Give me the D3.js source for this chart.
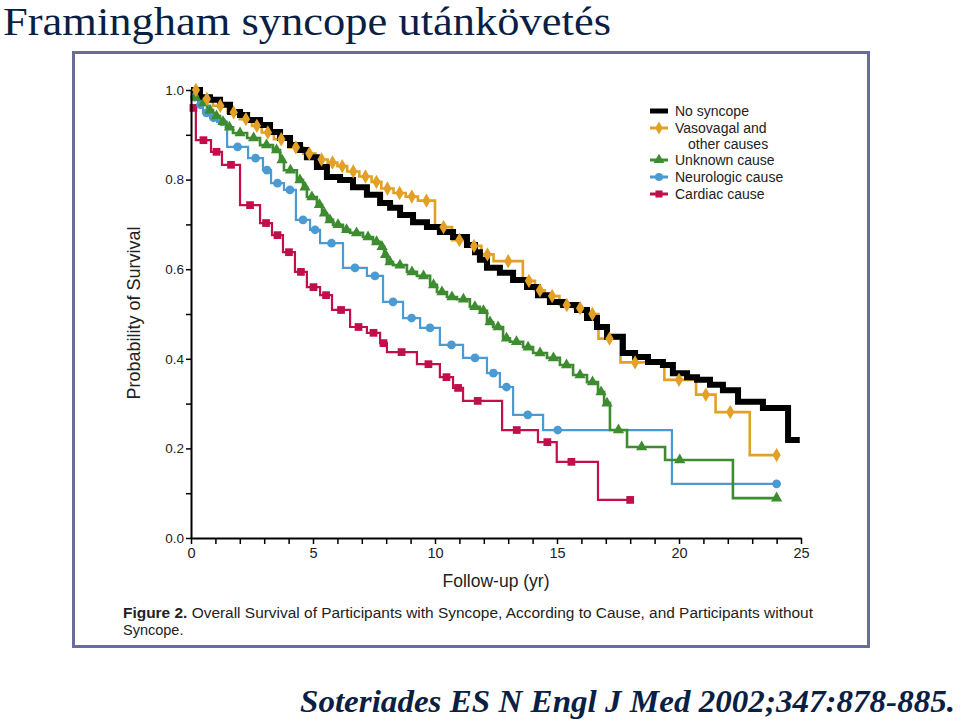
<!DOCTYPE html>
<html>
<head>
<meta charset="utf-8">
<script src="https://cdn.jsdelivr.net/npm/d3@7"></script>
<style>
  html, body { margin: 0; padding: 0; background: #fff; }
  svg { display: block; }
</style>
</head>
<body>
<svg id="chart" width="960" height="721"></svg>
<script>
// ---------------- DATA ----------------
const titleText = "Framingham syncope utánkövetés";
const citationText = "Soteriades ES N Engl J Med 2002;347:878-885.";
const xTickLabels = [0, 5, 10, 15, 20, 25];
const yTickLabels = [0.0, 0.2, 0.4, 0.6, 0.8, 1.0];
const xLabel = "Follow-up (yr)";
const yLabel = "Probability of Survival";
const captionBold = "Figure 2.";
const captionLine1 = " Overall Survival of Participants with Syncope, According to Cause, and Participants without";
const captionLine2 = "Syncope.";

// No syncope (step times in years, survival after the step)
const noSyncopeT = [0, 0.37, 0.78, 1.19, 1.60, 2.01, 2.30, 2.83, 3.24, 3.65, 4.06, 4.47, 4.75, 5.16, 5.57, 6.11, 6.64, 7.21, 7.75, 8.16, 8.57, 9.10, 9.67, 10.20, 10.74, 11.31, 11.64, 11.84, 12.13, 12.66, 13.20, 13.77, 14.22, 14.71, 15.25, 15.82, 16.23, 16.64, 17.05, 17.70, 18.20, 18.73, 19.34, 19.75, 20.33, 20.74, 21.27, 21.80, 22.42, 23.44, 24.47];
const noSyncopeS = [1.0, 0.984, 0.978, 0.967, 0.951, 0.944, 0.933, 0.922, 0.906, 0.893, 0.877, 0.866, 0.850, 0.828, 0.806, 0.799, 0.783, 0.766, 0.748, 0.737, 0.721, 0.705, 0.694, 0.683, 0.672, 0.654, 0.638, 0.621, 0.603, 0.592, 0.576, 0.560, 0.542, 0.527, 0.520, 0.509, 0.491, 0.471, 0.449, 0.413, 0.404, 0.393, 0.386, 0.368, 0.359, 0.353, 0.342, 0.330, 0.304, 0.290, 0.219];
const noSyncopeEnd = 24.95;

// Vasovagal and other causes
const vasovagalT = [0, 0.4, 0.9, 1.5, 2.0, 2.5, 2.9, 3.4, 4.0, 4.6, 5.1, 5.6, 6.0, 6.4, 6.9, 7.4, 7.8, 8.3, 8.8, 9.3, 10.0, 10.7, 11.3, 11.9, 12.4, 13.6, 14.1, 14.5, 15.1, 15.7, 16.2, 16.7, 17.6, 19.4, 20.7, 21.5, 22.9];
const vasovagalS = [1.0, 0.98, 0.965, 0.95, 0.935, 0.92, 0.905, 0.89, 0.872, 0.858, 0.845, 0.838, 0.83, 0.818, 0.807, 0.795, 0.78, 0.77, 0.762, 0.753, 0.694, 0.665, 0.652, 0.633, 0.618, 0.574, 0.553, 0.54, 0.52, 0.513, 0.50, 0.445, 0.392, 0.353, 0.32, 0.281, 0.185];
const vasovagalEnd = 24.0;

// Unknown cause
const unknownT = [0, 0.37, 0.66, 0.90, 1.19, 1.43, 1.72, 2.30, 2.83, 3.36, 3.65, 3.81, 4.34, 4.59, 4.75, 5.16, 5.37, 5.57, 5.82, 6.23, 6.52, 7.05, 7.46, 7.75, 7.91, 8.03, 8.28, 8.85, 9.26, 9.80, 10.08, 10.49, 10.90, 11.43, 11.84, 12.13, 12.38, 12.79, 13.07, 13.61, 14.02, 14.59, 15.12, 15.66, 16.23, 16.68, 16.93, 17.17, 17.87, 19.43, 22.21];
const unknownS = [0.984, 0.971, 0.955, 0.942, 0.929, 0.917, 0.904, 0.893, 0.877, 0.866, 0.844, 0.821, 0.799, 0.783, 0.761, 0.744, 0.725, 0.710, 0.699, 0.688, 0.681, 0.672, 0.661, 0.650, 0.632, 0.616, 0.609, 0.594, 0.585, 0.565, 0.549, 0.538, 0.533, 0.516, 0.507, 0.482, 0.471, 0.446, 0.438, 0.426, 0.413, 0.402, 0.386, 0.364, 0.348, 0.326, 0.301, 0.241, 0.203, 0.174, 0.089];
const unknownEnd = 24.0;

// Neurologic cause
const neuroT = [0, 0.29, 0.49, 0.78, 1.07, 1.48, 2.34, 2.95, 3.28, 3.81, 4.30, 4.88, 5.29, 6.23, 7.21, 7.87, 8.69, 9.39, 10.20, 11.15, 12.13, 12.66, 13.20, 14.43, 19.71];
const neuroS = [0.984, 0.967, 0.949, 0.938, 0.929, 0.873, 0.848, 0.821, 0.792, 0.777, 0.710, 0.688, 0.658, 0.603, 0.585, 0.527, 0.491, 0.469, 0.431, 0.402, 0.368, 0.337, 0.275, 0.241, 0.121];
const neuroEnd = 24.0;

// Cardiac cause
const cardiacT = [0, 0.20, 0.82, 1.27, 2.01, 2.83, 3.32, 3.77, 4.26, 4.75, 5.29, 5.78, 6.52, 7.21, 7.75, 8.03, 9.26, 10.20, 10.74, 11.15, 12.75, 14.22, 14.99, 16.68];
const cardiacS = [0.960, 0.888, 0.862, 0.833, 0.743, 0.703, 0.676, 0.638, 0.594, 0.560, 0.542, 0.509, 0.471, 0.458, 0.435, 0.415, 0.388, 0.359, 0.335, 0.306, 0.241, 0.214, 0.170, 0.085];
const cardiacEnd = 18.0;

const seriesNames = ["No syncope", "Vasovagal and\nother causes", "Unknown cause", "Neurologic cause", "Cardiac cause"];
const seriesColors = ["#000000", "#e2a126", "#3e8c30", "#4b9ad2", "#c20f4c"];

// ---------------- BUILD ----------------
const series = [
  {name: seriesNames[0], color: seriesColors[0], t: noSyncopeT, s: noSyncopeS, end: noSyncopeEnd, width: 6, symbol: null},
  {name: seriesNames[1], color: seriesColors[1], t: vasovagalT, s: vasovagalS, end: vasovagalEnd, width: 2.6, symbol: d3.symbolDiamond},
  {name: seriesNames[2], color: seriesColors[2], t: unknownT, s: unknownS, end: unknownEnd, width: 2.6, symbol: d3.symbolTriangle},
  {name: seriesNames[3], color: seriesColors[3], t: neuroT, s: neuroS, end: neuroEnd, width: 2.2, symbol: d3.symbolCircle},
  {name: seriesNames[4], color: seriesColors[4], t: cardiacT, s: cardiacS, end: cardiacEnd, width: 2.2, symbol: d3.symbolSquare}
];

const svg = d3.select("#chart");

// Title
svg.append("text")
  .attr("x", 3).attr("y", 35)
  .attr("font-family", "'Liberation Serif', 'Times New Roman', serif")
  .attr("font-size", 39)
  .attr("fill", "#0b1f45")
  .attr("textLength", 608)
  .attr("lengthAdjust", "spacingAndGlyphs")
  .text(titleText);

// Frame
svg.append("rect")
  .attr("x", 73.5).attr("y", 52.5)
  .attr("width", 795).attr("height", 594)
  .attr("fill", "#fff")
  .attr("stroke", "#6b6c9e").attr("stroke-width", 3);

// Scales
const x = d3.scaleLinear().domain([0, 25]).range([191, 801]);
const y = d3.scaleLinear().domain([0, 1]).range([538, 90]);

const sansFont = "'Liberation Sans Narrow', 'Arial Narrow', 'Liberation Sans', Arial, sans-serif";

// Series lines
const line = d3.line().x(d => x(d[0])).y(d => y(d[1])).curve(d3.curveStepAfter);
const drawOrder = [4, 3, 2, 1, 0];
const gLines = svg.append("g");
drawOrder.forEach(i => {
  const sr = series[i];
  const pts = sr.t.map((t, k) => [t, sr.s[k]]);
  pts.push([sr.end, sr.s[sr.s.length - 1]]);
  gLines.append("path")
    .attr("d", line(pts))
    .attr("fill", "none")
    .attr("stroke", sr.color)
    .attr("stroke-width", sr.width)
    .attr("stroke-linejoin", "miter")
    .attr("stroke-linecap", "butt");
});

// Markers (one per step plateau; the last plateau is marked at its end)
const gMarks = svg.append("g");
[4, 3, 2, 1].forEach(i => {
  const sr = series[i];
  const marks = [];
  sr.t.forEach((t, k) => {
    if (k === sr.t.length - 1) return;
    const next = sr.t[k + 1];
    const off = Math.min((next - t) / 2, 0.6);
    marks.push([t + off, sr.s[k]]);
  });
  marks.push([sr.end, sr.s[sr.s.length - 1]]);
  const sym = d3.symbol().type(sr.symbol).size(sr.symbol === d3.symbolTriangle ? 55 : 60);
  gMarks.selectAll(null).data(marks).enter().append("path")
    .attr("d", sym)
    .attr("transform", d => `translate(${x(d[0])},${y(d[1])})`)
    .attr("fill", sr.color);
});

// Axes
const yAxis = d3.axisLeft(y).tickValues(d3.range(0, 1.01, 0.1))
  .tickFormat(d => (Math.round(d * 10) % 2 === 0) ? d3.format(".1f")(d) : "")
  .tickSize(5).tickSizeOuter(0).tickPadding(2);
const gy = svg.append("g").attr("transform", "translate(191,0)").call(yAxis);
gy.select(".domain").attr("stroke-width", 2);
gy.selectAll(".tick line").attr("stroke-width", 1.5);
gy.selectAll("text").attr("font-family", sansFont).attr("font-size", 13.5).attr("fill", "#222");

const xAxis = d3.axisBottom(x).tickValues(d3.range(0, 26, 1))
  .tickFormat(d => xTickLabels.includes(d) ? d : "")
  .tickSize(6).tickSizeOuter(0).tickPadding(4);
const gx = svg.append("g").attr("transform", "translate(0,538)").call(xAxis);
gx.select(".domain").attr("stroke-width", 2);
gx.selectAll(".tick line").attr("stroke-width", 1.5);
gx.selectAll("text").attr("font-family", sansFont).attr("font-size", 14.5).attr("fill", "#222");

// Axis labels
svg.append("text")
  .attr("x", 496).attr("y", 587)
  .attr("text-anchor", "middle")
  .attr("font-family", sansFont).attr("font-size", 17.5).attr("fill", "#222")
  .text(xLabel);
svg.append("text")
  .attr("transform", "translate(140,313) rotate(-90)")
  .attr("text-anchor", "middle")
  .attr("font-family", sansFont).attr("font-size", 18).attr("fill", "#222")
  .text(yLabel);

// Legend
const legendRows = [111, 128, 160, 177, 194];
const gLeg = svg.append("g");
series.forEach((sr, i) => {
  const ly = legendRows[i];
  gLeg.append("line")
    .attr("x1", 650).attr("x2", 668).attr("y1", ly).attr("y2", ly)
    .attr("stroke", sr.color).attr("stroke-width", i === 0 ? 5 : 3);
  if (sr.symbol) {
    gLeg.append("path")
      .attr("d", d3.symbol().type(sr.symbol).size(50))
      .attr("transform", `translate(659,${ly})`)
      .attr("fill", sr.color);
  }
  const lines = sr.name.split("\n");
  lines.forEach((txt, j) => {
    gLeg.append("text")
      .attr("x", j === 0 ? 675 : 688)
      .attr("y", ly + 5 + j * 15.5)
      .attr("font-family", sansFont).attr("font-size", 14).attr("fill", "#222")
      .text(txt);
  });
});

// Caption
const cap = svg.append("text")
  .attr("x", 123).attr("y", 618)
  .attr("font-family", sansFont).attr("font-size", 14).attr("fill", "#222")
  .attr("textLength", 690).attr("lengthAdjust", "spacingAndGlyphs");
cap.append("tspan").attr("font-weight", "bold").text(captionBold);
cap.append("tspan").text(captionLine1);
svg.append("text")
  .attr("x", 123).attr("y", 635)
  .attr("font-family", sansFont).attr("font-size", 14.5).attr("fill", "#222")
  .text(captionLine2);

// Citation
svg.append("text")
  .attr("x", 955).attr("y", 712)
  .attr("text-anchor", "end")
  .attr("font-family", "'Liberation Serif', 'Times New Roman', serif")
  .attr("font-size", 32)
  .attr("font-weight", "bold").attr("font-style", "italic")
  .attr("fill", "#0b1f45")
  .attr("textLength", 655)
  .attr("lengthAdjust", "spacingAndGlyphs")
  .text(citationText);
</script>
</body>
</html>
